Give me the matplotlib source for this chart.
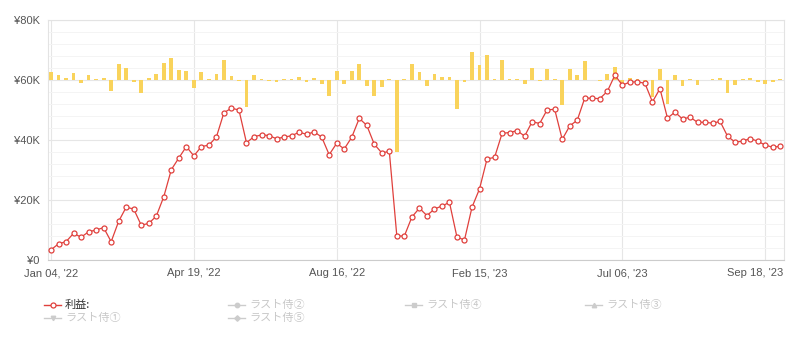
import matplotlib
matplotlib.use("Agg")
import matplotlib.pyplot as plt
from matplotlib.lines import Line2D
from matplotlib.transforms import ScaledTranslation
import numpy as np

# ---------------- data ----------------
tick_labels = ["Jan 04, '22", "Apr 19, '22", "Aug 16, '22", "Feb 15, '23", "Jul 06, '23", "Sep 18, '23"]
tick_index = [0, 19, 38, 57, 76, 95]

# 利益 (profit) in thousands of yen
profit_k = [
    3.4, 5.4, 6.1, 8.9, 7.6, 9.4, 10.0, 10.8, 6.1, 12.9, 17.6, 17.0, 11.6, 12.2, 14.6, 21.1,
    30.1, 34.0, 37.8, 34.7, 37.8, 38.3, 41.0, 49.1, 50.6, 50.0, 39.1, 41.1, 41.7, 41.5, 40.4, 41.0,
    41.4, 42.6, 41.9, 42.7, 41.0, 35.1, 38.9, 37.0, 40.9, 47.2, 44.9, 38.6, 35.7, 36.2, 8.0, 8.0,
    14.3, 17.3, 14.8, 17.0, 18.0, 19.2, 7.6, 6.7, 17.6, 23.7, 33.7, 34.2, 42.2, 42.5, 43.1, 41.3,
    46.1, 45.5, 50.1, 50.2, 40.2, 44.7, 46.6, 54.0, 53.9, 53.8, 56.2, 61.6, 58.3, 59.3, 59.4, 58.9,
    52.7, 57.1, 47.3, 49.3, 47.0, 47.6, 45.9, 45.9, 45.6, 46.2, 41.2, 39.3, 39.6, 40.5, 39.6, 38.3, 37.6, 37.9,
]

# change bars (thousands of yen), drawn around the 60K level
change_k = [
    2.8, 1.7, 0.6, 2.2, -1.1, 1.6, 0.2, 0.6, -3.8, 5.2, 4.1, -0.8, -4.4, 0.6, 1.9, 5.6,
    7.2, 3.2, 2.9, -2.8, 2.6, 0.5, 1.9, 6.6, 1.2, -0.3, -9.1, 1.6, 0.3, -0.3, -0.8, 0.3,
    0.2, 0.9, -0.7, 0.6, -1.4, -5.2, 2.9, -1.3, 2.9, 5.2, -2.1, -5.4, -2.4, 0.3, -23.9, 0.2,
    5.2, 2.6, -2.1, 1.9, 0.9, 0.9, -9.8, -0.6, 9.2, 4.9, 8.2, 0.2, 6.6, 0.2, 0.2, -1.3,
    3.9, -0.3, 3.7, 0.3, -8.3, 3.7, 1.6, 6.2, 0.1, -0.3, 1.9, 4.3, -1.0, 0.6, 0.2, -0.3,
    -5.7, 3.7, -8.0, 1.6, -2.1, 0.3, -1.5, 0.1, 0.2, 0.6, -4.4, -1.8, 0.3, 0.6, -0.7, -1.2, -0.8, 0.3,
]
bar_base = 60000

y_ticks = [0, 20000, 40000, 60000, 80000]
y_tick_labels = ["¥0", "¥20K", "¥40K", "¥60K", "¥80K"]

legend_labels = ["利益:", "ラスト侍②", "ラスト侍④", "ラスト侍③", "ラスト侍①", "ラスト侍⑤"]

# ---------------- style ----------------
plt.rcParams['font.family'] = ['Liberation Sans', 'DejaVu Sans']
W, H = 789, 345
fig = plt.figure(figsize=(W / 100, H / 100), dpi=100)
fig.patch.set_facecolor('white')

L, R, T, B = 48, 784, 20, 260
ax = fig.add_axes([L / W, 1 - B / H, (R - L) / W, (B - T) / H])

x = np.arange(len(profit_k))
profit = np.array(profit_k) * 1000
change = np.array(change_k) * 1000

line_color = '#e0403c'
bar_color = '#f9d35b'

ax.bar(x, change, bottom=bar_base, width=0.5, color=bar_color, zorder=2, linewidth=0)
ax.plot(x, profit, color=line_color, lw=0.9, marker='o', markersize=3.6,
        markerfacecolor='white', markeredgecolor=line_color, markeredgewidth=0.9, zorder=3)

ax.set_xlim(-0.4, 97.5)
ax.set_ylim(0, 80000)

ax.set_yticks(y_ticks)
ax.set_yticklabels(y_tick_labels)
ax.set_yticks(np.arange(0, 80001, 4000), minor=True)
ax.set_xticks(tick_index)
ax.set_xticklabels(tick_labels)

ax.grid(which='major', axis='y', color='#e6e6e6', lw=0.8, zorder=0)
ax.grid(which='minor', axis='y', color='#f4f4f4', lw=0.7, zorder=0)
ax.grid(which='major', axis='x', color='#e6e6e6', lw=0.8, zorder=0)
ax.set_axisbelow(True)

ax.tick_params(axis='both', which='both', length=0, colors='#555555', labelsize=8)
ax.tick_params(axis='y', pad=6)
ax.tick_params(axis='x', pad=6)
for s in ax.spines.values():
    s.set_color('#e3e3e3')
    s.set_linewidth(0.8)
ax.spines['bottom'].set_color('#cccccc')

# keep the last date label inside the figure (shifted left like the reference)
last = ax.get_xticklabels()[-1]
last.set_transform(last.get_transform() + ScaledTranslation(-10 / 100, 0, fig.dpi_scale_trans))

# ---------------- legend (manual) ----------------
cjk = ['Noto Sans CJK JP', 'DejaVu Sans']
items = [
    (44, 305, 'o', True),
    (228, 305, 'o', False),
    (405, 305, 's', False),
    (585, 305, '^', False),
    (44, 318, 'v', False),
    (228, 318, 'D', False),
]
for (px, py, mk, active), lab in zip(items, legend_labels):
    yy = 1 - py / H
    col = line_color if active else '#cccccc'
    fig.add_artist(Line2D([px / W, (px + 17) / W], [yy, yy], transform=fig.transFigure,
                          color=col, lw=1.0))
    if active:
        fig.add_artist(Line2D([(px + 8.5) / W], [yy], transform=fig.transFigure,
                              marker=mk, markersize=3.6, markerfacecolor='white',
                              markeredgecolor=col, markeredgewidth=0.9, lw=0))
    else:
        fig.add_artist(Line2D([(px + 8.5) / W], [yy], transform=fig.transFigure,
                              marker=mk, markersize=3.2 if mk != 'D' else 2.8,
                              markerfacecolor=col, markeredgecolor=col, lw=0))
    fig.text((px + 21) / W, yy, lab, family=cjk, fontsize=8,
             color='#333333' if active else '#c8c8c8', va='center', ha='left')

fig.savefig('out.png', dpi=100, facecolor='white')
